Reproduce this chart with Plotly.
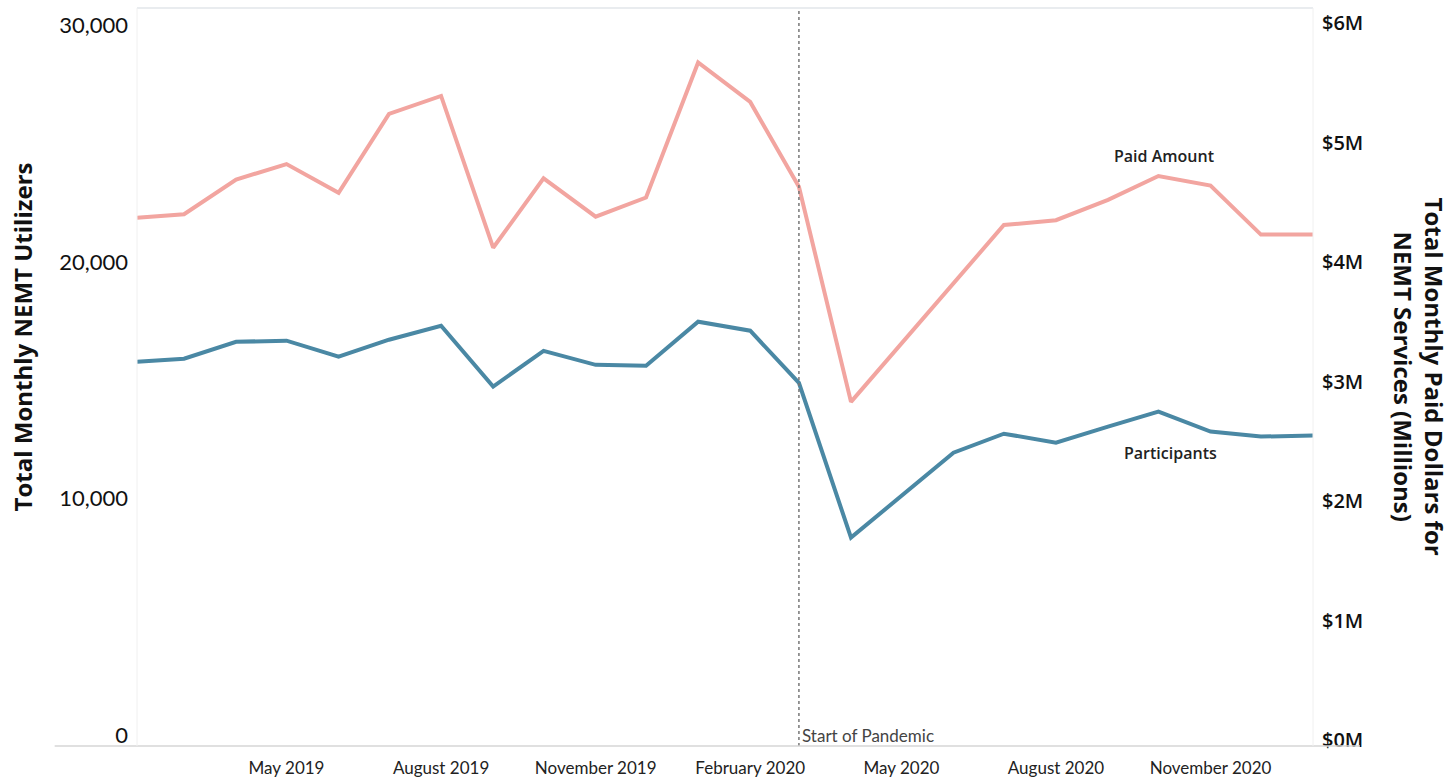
import plotly.graph_objects as go

# Monthly NEMT figures, February 2019 through January 2021
months = [
    "2019-02-01", "2019-03-01", "2019-04-01", "2019-05-01", "2019-06-01", "2019-07-01",
    "2019-08-01", "2019-09-01", "2019-10-01", "2019-11-01", "2019-12-01", "2020-01-01",
    "2020-02-01", "2020-03-01", "2020-04-01", "2020-05-01", "2020-06-01", "2020-07-01",
    "2020-08-01", "2020-09-01", "2020-10-01", "2020-11-01", "2020-12-01", "2021-01-01",
]
paid_millions = [
    4.37, 4.40, 4.69, 4.82, 4.58, 5.24, 5.39, 4.12, 4.70, 4.38, 4.54, 5.67,
    5.34, 4.63, 2.83, 3.32, 3.82, 4.31, 4.35, 4.52, 4.72, 4.64, 4.23, 4.23,
]
participants = [
    15780, 15910, 16620, 16670, 15990, 16710, 17300, 14730, 16240, 15650, 15610, 17470,
    17090, 14890, 8350, 10130, 11940, 12740, 12360, 13040, 13670, 12830, 12620, 12660,
]

x_tick_vals = ["2019-05-01", "2019-08-01", "2019-11-01", "2020-02-01",
               "2020-05-01", "2020-08-01", "2020-11-01"]
x_tick_text = ["May 2019", "August 2019", "November 2019", "February 2020",
               "May 2020", "August 2020", "November 2020"]
left_tick_vals = [0, 10000, 20000, 30000]
left_tick_text = ["0", "10,000", "20,000", "30,000"]
right_tick_vals = [0, 1, 2, 3, 4, 5, 6]
right_tick_text = ["$0M", "$1M", "$2M", "$3M", "$4M", "$5M", "$6M"]
pandemic_start = "2020-03-01"

PINK = "#F2A5A0"
BLUE = "#4A88A4"

fig = go.Figure()
fig.add_trace(go.Scatter(
    x=months, y=participants, mode="lines", name="Participants",
    line=dict(color=BLUE, width=4), yaxis="y",
))
fig.add_trace(go.Scatter(
    x=months, y=paid_millions, mode="lines", name="Paid Amount",
    line=dict(color=PINK, width=4), yaxis="y2",
))

# Start-of-pandemic reference line
fig.add_shape(type="line", xref="x", yref="paper", x0=pandemic_start, x1=pandemic_start,
              y0=0, y1=1, line=dict(color="#777777", width=1.5, dash="dot"))
fig.add_annotation(x=pandemic_start, y=0, xref="x", yref="paper", text="Start of Pandemic",
                   showarrow=False, xanchor="left", yanchor="bottom", xshift=1, yshift=-2,
                   font=dict(family="Lato", size=17, color="#444444"))

# Frame lines
fig.add_shape(type="line", xref="paper", yref="paper", x0=-0.07, x1=1.04, y0=0, y1=0,
              line=dict(color="#d6d6d6", width=1.5))
fig.add_shape(type="line", xref="paper", yref="paper", x0=0, x1=1, y0=1, y1=1,
              line=dict(color="#e2e6ea", width=1.5))
fig.add_shape(type="line", xref="paper", yref="paper", x0=0, x1=0, y0=0, y1=1,
              line=dict(color="#f0f0f0", width=1))
fig.add_shape(type="line", xref="paper", yref="paper", x0=1, x1=1, y0=0, y1=1,
              line=dict(color="#f0f0f0", width=1))

# Series labels
fig.add_annotation(x="2020-10-01", y=4.72, xref="x", yref="y2", text="Paid Amount",
                   showarrow=False, yanchor="bottom", yshift=7, xshift=6,
                   font=dict(family="Open Sans", size=16, color="#222222", weight=600))
fig.add_annotation(x="2020-10-01", y=13670, xref="x", yref="y", text="Participants",
                   showarrow=False, yanchor="top", yshift=-28, xshift=12,
                   font=dict(family="Open Sans", size=16, color="#222222", weight=600))

# Axis titles
fig.add_annotation(x=-0.0978, y=0.555, xref="paper", yref="paper",
                   text="<b>Total Monthly NEMT Utilizers</b>", textangle=-90,
                   xanchor="center", yanchor="middle",
                   showarrow=False, font=dict(family="Open Sans", size=24, color="#111111"))
fig.add_annotation(x=1.0905, y=0.50, xref="paper", yref="paper",
                   text="<b>Total Monthly Paid Dollars for<br>NEMT Services (Millions)</b>",
                   textangle=90, showarrow=False, xanchor="center", yanchor="middle",
                   font=dict(family="Open Sans", size=24, color="#111111"))

fig.update_layout(
    width=1455, height=781,
    margin=dict(l=137, r=142, t=8, b=35),
    paper_bgcolor="white", plot_bgcolor="white",
    showlegend=False,
    xaxis=dict(
        range=[months[0], months[-1]], tickvals=x_tick_vals, ticktext=x_tick_text,
        showgrid=False, zeroline=False, showline=False, ticks="", automargin=False,
        tickfont=dict(family="Lato", size=17, color="#222222"),
        ticklabelstandoff=10,
    ),
    yaxis=dict(
        range=[-450, 30720], tickvals=left_tick_vals, ticktext=left_tick_text,
        showgrid=False, zeroline=False, showline=False, ticks="", automargin=False,
        tickfont=dict(family="Lato", size=22, color="#111111"),
        ticklabelstandoff=8,
    ),
    yaxis2=dict(
        range=[-0.05, 6.126], tickvals=right_tick_vals, ticktext=right_tick_text,
        overlaying="y", side="right", automargin=False,
        showgrid=False, zeroline=False, showline=False, ticks="",
        tickfont=dict(family="Open Sans", size=20, color="#111111", weight=600),
        ticklabelstandoff=8,
    ),
)

fig.write_html("out.html")
